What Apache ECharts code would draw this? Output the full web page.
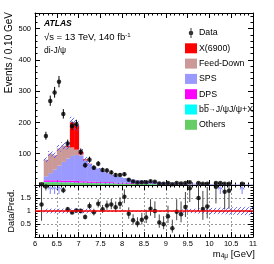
<!DOCTYPE html>
<html><head><meta charset="utf-8">
<script src="https://cdn.jsdelivr.net/npm/echarts@6/dist/echarts.min.js"></script>
<style>html,body{margin:0;padding:0;background:#fff}#c{width:274px;height:264px}</style>
</head><body><div id="c"></div>
<script>
// ---------------- data ----------------
const binWidth = 0.1;
const binCenters = [6.15,6.25,6.35,6.45,6.55,6.65,6.75,6.85,6.95,
  7.05,7.15,7.25,7.35,7.45,7.55,7.65,7.75,7.85,7.95,
  8.05,8.15,8.25,8.35,8.45,8.55,8.65,8.75,8.85,8.95,
  9.05,9.15,9.25,9.35,9.45,9.55,9.65,9.75,9.85,9.95,
  10.05,10.15,10.25,10.35,10.45,10.55,10.65,10.75,10.85,10.95];
const dataCounts = [2,157,269,296,330,227,133,189,194,
  106,63,81,55,68,48,46,40,32,32,
  34,17,11,8,9,9,12,10,5,4,
  6,2,6,5,6,9,0,6,4,4,
  0,6,6,4,4,0,0,4,0,0];
const others = [1.6,9,9,9,9,8,8,8,7,
  7,7,6,6,6,5,5,5,4,4,
  4,4,3.5,3,3,3,2.8,2.6,2.4,2.2,
  2,1.8,1.8,1.7,1.6,1.5,1.4,1.3,1.2,1.1,
  1.0,1.0,0.9,0.9,0.8,0.8,0.7,0.7,0.6,0.6];
const bbbar = [0,1,1,1,1,1,1,1,1,
  1,1,1,1,1,1,1,1,1,1,
  1,0.5,0.5,0.5,0.5,0.5,0.4,0.4,0.4,0.3,
  0.3,0.3,0.3,0.2,0.2,0.2,0.2,0.2,0.2,0.2,
  0.1,0.1,0.1,0.1,0.1,0.1,0.1,0.1,0.1,0.1];
const dps = [0,5,5,5,5,5,5,5,5,
  4,4,4,4,3,3,3,3,2,2,
  2,2,1.5,1.5,1.5,1.2,1.2,1.1,1,1,
  0.9,0.8,0.8,0.7,0.7,0.6,0.6,0.5,0.5,0.5,
  0.4,0.4,0.4,0.3,0.3,0.3,0.3,0.2,0.2,0.2];
const sps = [0,13,23,35,47,60,71,79,83,
  82,66,56,47,43,36,29,23,21,18,
  15,12.5,11.5,10,8.5,7.3,6.6,5.9,5.2,4.7,
  4.3,3.1,3.3,3.1,2.7,2.5,2.2,2.0,1.8,1.6,
  1.6,1.6,1.3,1.0,1.05,0.9,0.9,0.8,0.8,0.7];
const feedDown = [0,53,62,45,55,52,37,27,17,
  4,1,0,0,0,0,0,0,0,0,
  0,0,0,0,0,0,0,0,0,0,
  0,0,0,0,0,0,0,0,0,0,
  0,0,0,0,0,0,0,0,0,0];
const x6900 = [0,0,0,0,0,0,3,80,78,
  8,3,1,0,0,0,0,0,0,0,
  0,0,0,0,0,0,0,0,0,0,
  0,0,0,0,0,0,0,0,0,0,
  0,0,0,0,0,0,0,0,0,0];
const relUnc = [0.09,0.09,0.09,0.09,0.09,0.09,0.09,0.09,0.09,
  0.09,0.09,0.09,0.025,0.025,0.025,0.025,0.025,0.025,0.025,
  0.025,0.025,0.025,0.025,0.025,0.025,0.025,0.025,0.025,0.025,
  0.025,0.025,0.025,0.06,0.07,0.08,0.09,0.1,0.1,0.11,
  0.12,0.12,0.13,0.13,0.14,0.14,0.15,0.15,0.16,0.16];

// ---------------- build ----------------
const FONT = '"Liberation Sans", Arial, Helvetica, sans-serif';
const ratioMin = 0, ratioMax = 2;
const BB = 'bb\u0305\u2192J/\u03c8J/\u03c8+X';

const comps = [
  {name:'Others', vals:others, color:'#66cc66'},
  {name:BB, vals:bbbar, color:'#00ffff'},
  {name:'DPS', vals:dps, color:'#ff00ff'},
  {name:'SPS', vals:sps, color:'#9999ff'},
  {name:'Feed-Down', vals:feedDown, color:'#cc9999'},
  {name:'X(6900)', vals:x6900, color:'#ff0000'}
];

function hatch(color){
  const c=document.createElement('canvas'); c.width=4; c.height=4;
  const g=c.getContext('2d'); g.strokeStyle=color; g.lineWidth=0.9;
  g.beginPath(); g.moveTo(0,4); g.lineTo(4,0); g.moveTo(-1,1); g.lineTo(1,-1); g.moveTo(3,5); g.lineTo(5,3); g.stroke();
  return c;
}
const hatchImg = hatch('#5050ff');

let base = binCenters.map(()=>0);
const series = [];
comps.forEach(d=>{
  const data = binCenters.map((c,i)=>[c, base[i], base[i]+d.vals[i]]);
  base = base.map((b,i)=>b+d.vals[i]);
  const col = d.color;
  series.push({
    type:'custom', name:d.name, xAxisIndex:0, yAxisIndex:0, clip:true,
    itemStyle:{color:col}, encode:{x:0, y:[1,2]}, data,
    renderItem(params, api){
      const c=api.value(0), b=api.value(1), t=api.value(2);
      if(!(t>b)) return null;
      const p0=api.coord([c-binWidth/2, t]), p1=api.coord([c+binWidth/2, b]);
      return {type:'rect', shape:{x:p0[0], y:p0[1], width:p1[0]-p0[0]+0.5, height:p1[1]-p0[1]}, style:{fill:col}};
    }
  });
});
const total = base;

// uncertainty band main
series.push({
  type:'custom', name:'uncMain', xAxisIndex:0, yAxisIndex:0, clip:true, silent:true,
  encode:{x:0,y:[1,2]},
  data: binCenters.map((c,i)=>[c, total[i]*(1-relUnc[i]), total[i]*(1+relUnc[i])]),
  renderItem(params, api){
    const c=api.value(0), b=api.value(1), t=api.value(2);
    const p0=api.coord([c-binWidth/2, t]), p1=api.coord([c+binWidth/2, b]);
    return {type:'rect', shape:{x:p0[0], y:p0[1], width:p1[0]-p0[0], height:p1[1]-p0[1]}, style:{fill:{image:hatchImg, repeat:'repeat'}}};
  }
});

function poisErr(n){ if(n<=0) return [0,1.84]; const s=Math.sqrt(n+0.25); return [s-0.5, s+0.5]; }

// data error bars main
series.push({
  type:'custom', name:'dataErr', xAxisIndex:0, yAxisIndex:0, clip:true, silent:true,
  encode:{x:0,y:[1,2]},
  data: binCenters.map((c,i)=>{const n=dataCounts[i]; const e=poisErr(n); return [c, n-e[0], n+e[1], n];}).filter(d=>d[3]>0),
  renderItem(params, api){
    const p1=api.coord([api.value(0), api.value(1)]), p2=api.coord([api.value(0), api.value(2)]);
    return {type:'line', shape:{x1:p1[0],y1:p1[1],x2:p2[0],y2:p2[1]}, style:{stroke:'#000', lineWidth:1}};
  }
});
series.push({
  type:'scatter', name:'Data', xAxisIndex:0, yAxisIndex:0, symbol:'circle', symbolSize:4.5,
  itemStyle:{color:'#000'}, clip:true,
  data: binCenters.map((c,i)=>[c, dataCounts[i]]).filter(d=>d[1]>0)
});

// ratio band
series.push({
  type:'custom', name:'uncRatio', xAxisIndex:2, yAxisIndex:4, clip:true, silent:true,
  encode:{x:0,y:[1,2]},
  data: binCenters.slice(1).map((c,i)=>[c, 1-relUnc[i+1], 1+relUnc[i+1]]),
  renderItem(params, api){
    const c=api.value(0);
    const p0=api.coord([c-binWidth/2, api.value(2)]), p1=api.coord([c+binWidth/2, api.value(1)]);
    return {type:'rect', shape:{x:p0[0], y:p0[1], width:p1[0]-p0[0], height:p1[1]-p0[1]}, style:{fill:{image:hatchImg, repeat:'repeat'}}};
  }
});
// red line at 1
series.push({
  type:'line', name:'unity', xAxisIndex:2, yAxisIndex:4, silent:true, showSymbol:false,
  data:[[6,1],[11,1]], lineStyle:{color:'#ff0000', width:1.5}
});
// ratio error bars
const ratioPts = [];
binCenters.forEach((c,i)=>{
  const n=dataCounts[i]; if(n<=0) return;
  const e=poisErr(n);
  ratioPts.push([c, n/total[i], (n-e[0])/total[i], (n+e[1])/total[i]]);
});
series.push({
  type:'custom', name:'ratioErr', xAxisIndex:2, yAxisIndex:4, clip:true, silent:true,
  encode:{x:0,y:[2,3]},
  data: ratioPts.filter(d=>d[1]<=ratioMax).map(d=>[d[0], d[2], d[3]]),
  renderItem(params, api){
    const p1=api.coord([api.value(0), api.value(1)]), p2=api.coord([api.value(0), api.value(2)]);
    return {type:'line', shape:{x1:p1[0],y1:p1[1],x2:p2[0],y2:p2[1]}, style:{stroke:'#444', lineWidth:1}};
  }
});
series.push({
  type:'scatter', name:'ratio', xAxisIndex:2, yAxisIndex:4, symbol:'circle', symbolSize:4.5,
  itemStyle:{color:'#000'}, clip:true,
  data: ratioPts.filter(d=>d[1]<=ratioMax && d[1]>=ratioMin).map(d=>[d[0], d[1]])
});
// arrows for out-of-range ratios
series.push({
  type:'custom', name:'arrows', xAxisIndex:2, yAxisIndex:4, clip:false, silent:true,
  encode:{x:0,y:1},
  data: ratioPts.filter(d=>d[1]>ratioMax).map(d=>[d[0], ratioMax]),
  renderItem(params, api){
    const p=api.coord([api.value(0), api.value(1)]);
    const x=p[0], y=p[1]+1;
    return {type:'group', children:[
      {type:'line', shape:{x1:x,y1:y+2,x2:x,y2:y+8}, style:{stroke:'#8080ff', lineWidth:1}},
      {type:'polyline', shape:{points:[[x-2,y+3.5],[x,y+0.5],[x+2,y+3.5]]}, style:{stroke:'#8080ff', lineWidth:1, fill:null}}
    ]};
  }
});

// ---------------- axes ----------------
const black = {color:'#000', width:1};
const dashed = {type:[2,2], color:'#9a9a9a', width:1};
function xAx(grid, pos, labels, split){
  return {type:'value', gridIndex:grid, position:pos, min:6, max:11, interval:0.5,
    axisLine:{show:true, onZero:false, lineStyle:black},
    axisTick:{show:true, inside:true, length:5, lineStyle:black},
    minorTick:{show:true, splitNumber:5, length:2.5, lineStyle:black},
    axisLabel:{show:labels, color:'#000', fontSize:7.5, fontFamily:FONT, margin:3},
    splitLine:{show:!!split, lineStyle:dashed}};
}
function yAx(grid, pos, opts){
  return Object.assign({type:'value', gridIndex:grid, position:pos,
    axisLine:{show:true, onZero:false, lineStyle:black},
    splitLine:{show:false}}, opts);
}
const yAxes = [
  yAx(0,'left',{min:0,max:550,interval:100,
    axisTick:{inside:true,length:5,lineStyle:black},
    axisLabel:{show:true,showMinLabel:false,showMaxLabel:false,color:'#000',fontSize:7.5,fontFamily:FONT,margin:4}}),
  yAx(0,'left',{min:0,max:550,interval:20,axisLine:{show:false},
    axisTick:{inside:true,length:2.5,lineStyle:black},axisLabel:{show:false}}),
  yAx(0,'right',{min:0,max:550,interval:100,
    axisTick:{inside:true,length:5,lineStyle:black},axisLabel:{show:false}}),
  yAx(0,'right',{min:0,max:550,interval:20,axisLine:{show:false},
    axisTick:{inside:true,length:2.5,lineStyle:black},axisLabel:{show:false}}),
  yAx(1,'left',{min:ratioMin,max:ratioMax,interval:0.5,
    axisTick:{inside:true,length:5,lineStyle:black},
    splitLine:{show:true,lineStyle:dashed},
    axisLabel:{show:true,showMinLabel:false,showMaxLabel:false,color:'#000',fontSize:7.5,fontFamily:FONT,margin:4}}),
  yAx(1,'left',{min:ratioMin,max:ratioMax,interval:0.1,axisLine:{show:false},
    axisTick:{inside:true,length:2.5,lineStyle:black},axisLabel:{show:false}}),
  yAx(1,'right',{min:ratioMin,max:ratioMax,interval:0.5,
    axisTick:{inside:true,length:5,lineStyle:black},axisLabel:{show:false}}),
  yAx(1,'right',{min:ratioMin,max:ratioMax,interval:0.1,axisLine:{show:false},
    axisTick:{inside:true,length:2.5,lineStyle:black},axisLabel:{show:false}})
];

const dataIcon = 'path://M5.5,0L6.5,0L6.5,10L5.5,10Z M8.3,5A2.3,2.3,0,1,1,3.7,5A2.3,2.3,0,1,1,8.3,5Z';

const option = {
  animation:false,
  textStyle:{fontFamily:FONT},
  grid:[{left:35, top:13, width:218, height:172},{left:35, top:185, width:218, height:52}],
  xAxis:[xAx(0,'bottom',false,false), xAx(0,'top',false,false), xAx(1,'bottom',true,true), xAx(1,'top',false,false)],
  yAxis:yAxes,
  legend:{orient:'vertical', left:180, top:23, itemWidth:12, itemHeight:10, itemGap:5.3, selectedMode:false,
    formatter:(n)=>n===BB ? 'bb\u0305{ar|\u2192}J/\u03c8J/\u03c8+X' : n,
    textStyle:{fontSize:8.8, fontFamily:FONT, color:'#000', lineHeight:10, padding:[0,0,0,-3],
      rich:{ar:{fontSize:7, fontFamily:FONT, color:'#000', lineHeight:10}}},
    data:[{name:'Data', icon:dataIcon},
      {name:'X(6900)', icon:'rect'},{name:'Feed-Down', icon:'rect'},{name:'SPS', icon:'rect'},
      {name:'DPS', icon:'rect'},{name:BB, icon:'rect'},{name:'Others', icon:'rect'}]},
  graphic:[
    {type:'text', x:44, y:24, style:{text:'ATLAS', font:'italic bold 8.5px '+FONT, fill:'#000', verticalAlign:'middle'}},
    {type:'text', x:44, y:37, style:{text:'\u221as = 13 TeV, 140 fb{sup|-1}', fill:'#000', verticalAlign:'middle',
      font:'9.5px '+FONT, rich:{sup:{fontSize:6, fontFamily:FONT, verticalAlign:'top', fill:'#000'}}}},
    {type:'text', x:44, y:51, style:{text:'di-J/\u03c8', font:'8.5px '+FONT, fill:'#000', verticalAlign:'middle'}},
    {type:'text', x:9, y:12, rotation:Math.PI/2, style:{text:'Events / 0.10 GeV', font:'10px '+FONT, fill:'#000', align:'right', verticalAlign:'middle'}},
    {type:'text', x:12, y:211, rotation:Math.PI/2, style:{text:'Data/Pred.', font:'9px '+FONT, fill:'#000', align:'center', verticalAlign:'middle'}},
    {type:'text', x:255, y:254, style:{text:'{m|m}{s|4\u03bc}{m| [GeV]}', align:'right', verticalAlign:'middle', fill:'#000',
      rich:{m:{fontSize:9.5, fontFamily:FONT, fill:'#000', lineHeight:11, verticalAlign:'bottom'},
            s:{fontSize:6.5, fontFamily:FONT, fill:'#000', lineHeight:6, verticalAlign:'bottom'}}}}
  ],
  series
};
const chart = echarts.init(document.getElementById('c'), null, {renderer:'canvas'});
chart.setOption(option);
</script></body></html>
